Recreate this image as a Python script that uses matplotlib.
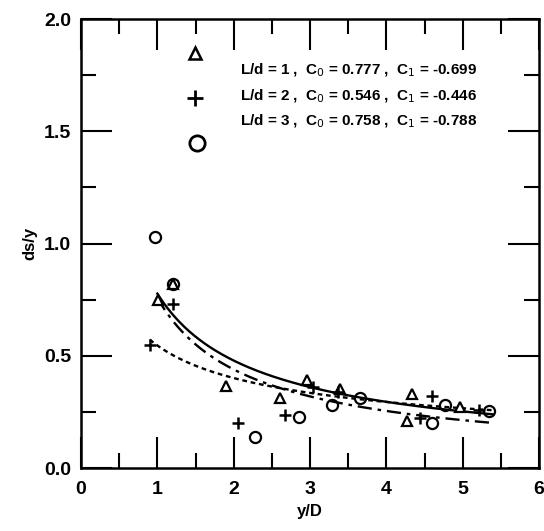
import numpy as np
import matplotlib
matplotlib.use("Agg")
import matplotlib.pyplot as plt

plt.rcParams['font.family'] = ['Liberation Sans', 'DejaVu Sans']

# Data points (y/D, ds/y)
tri_x = [1.01, 1.21, 1.90, 2.61, 2.96, 3.39, 4.27, 4.33, 4.97]
tri_y = [0.75, 0.82, 0.365, 0.31, 0.39, 0.35, 0.21, 0.33, 0.27]
plus_x = [0.90, 1.21, 2.06, 2.67, 3.04, 3.37, 4.44, 4.60, 5.21]
plus_y = [0.55, 0.73, 0.20, 0.235, 0.36, 0.34, 0.225, 0.32, 0.26]
circ_x = [0.97, 1.21, 2.28, 2.86, 3.29, 3.66, 4.60, 4.77, 5.34]
circ_y = [1.03, 0.82, 0.14, 0.228, 0.28, 0.31, 0.20, 0.28, 0.255]

# Fit coefficients (ds/y = C0 * (y/D)^C1)
ld_values = [1, 2, 3]
c0_values = [0.777, 0.546, 0.758]
c1_values = [-0.699, -0.446, -0.788]
x_start = [1.0, 0.9, 1.0]
x_end = [5.4, 5.4, 5.4]
legend_c0_text = ["0.777", "0.546", "0.758"]
legend_c1_text = ["-0.699", "-0.446", "-0.788"]

x_ticks = [0, 1, 2, 3, 4, 5, 6]
x_tick_labels = ['0', '1', '2', '3', '4', '5', '6']
y_ticks = [0.0, 0.5, 1.0, 1.5, 2.0]
y_tick_labels = ['0.0', '0.5', '1.0', '1.5', '2.0']

fig = plt.figure(figsize=(5.44, 5.31), dpi=100)
ax = fig.add_axes([0.149, 0.1186, 0.842, 0.8454])

styles = ['-', (0, (2.0, 1.6)), (0, (6, 2.5, 1.5, 2.5))]
for c0, c1, xs, xe, ls in zip(c0_values, c1_values, x_start, x_end, styles):
    xx = np.linspace(xs, xe, 200)
    ax.plot(xx, c0 * xx ** c1, color='black', lw=1.7, linestyle=ls)

ax.plot(tri_x, tri_y, linestyle='none', marker='^', markersize=6.5,
        markerfacecolor='white', markeredgecolor='black', markeredgewidth=1.6)
ax.plot(plus_x, plus_y, linestyle='none', marker='+', markersize=9,
        color='black', markeredgewidth=1.8)
ax.plot(circ_x, circ_y, linestyle='none', marker='o', markersize=8,
        markerfacecolor='none', markeredgecolor='black', markeredgewidth=1.6)

# Legend (manual)
ax.plot([1.49], [1.85], marker='^', markersize=9, markerfacecolor='white',
        markeredgecolor='black', markeredgewidth=1.8, clip_on=False)
ax.plot([1.49], [1.65], marker='+', markersize=12, color='black',
        markeredgewidth=2.0, clip_on=False)
ax.plot([1.52], [1.45], marker='o', markersize=11, markerfacecolor='none',
        markeredgecolor='black', markeredgewidth=2.0, clip_on=False)
ty = [1.77, 1.655, 1.545]
for ld, c0t, c1t, y in zip(ld_values, legend_c0_text, legend_c1_text, ty):
    ax.text(2.08, y, f"L/d = {ld} ,  C$_0$ = {c0t} ,  C$_1$ = {c1t}",
            fontsize=11, fontweight='bold', va='center', ha='left')

ax.set_xlim(0, 6)
ax.set_ylim(0, 2.0)
ax.set_xticks(x_ticks)
ax.set_xticklabels(x_tick_labels, fontweight='bold')
ax.set_xticks(np.arange(0.5, 6, 1.0), minor=True)
ax.set_yticks(y_ticks)
ax.set_yticklabels(y_tick_labels, fontweight='bold')
ax.set_yticks(np.arange(0.25, 2.0, 0.5), minor=True)
ax.tick_params(which='both', direction='in', top=True, right=True, width=1.5)
ax.tick_params(which='major', length=22, labelsize=14)
ax.tick_params(axis='x', which='major', pad=9)
ax.tick_params(axis='y', which='major', pad=7)
ax.tick_params(which='minor', length=11)
for s in ax.spines.values():
    s.set_linewidth(1.8)
ax.set_xlabel('y/D', fontsize=12, fontweight='bold', labelpad=5)
ax.set_ylabel('ds/y', fontsize=12, fontweight='bold', labelpad=5)

fig.savefig('out.png', dpi=100)
